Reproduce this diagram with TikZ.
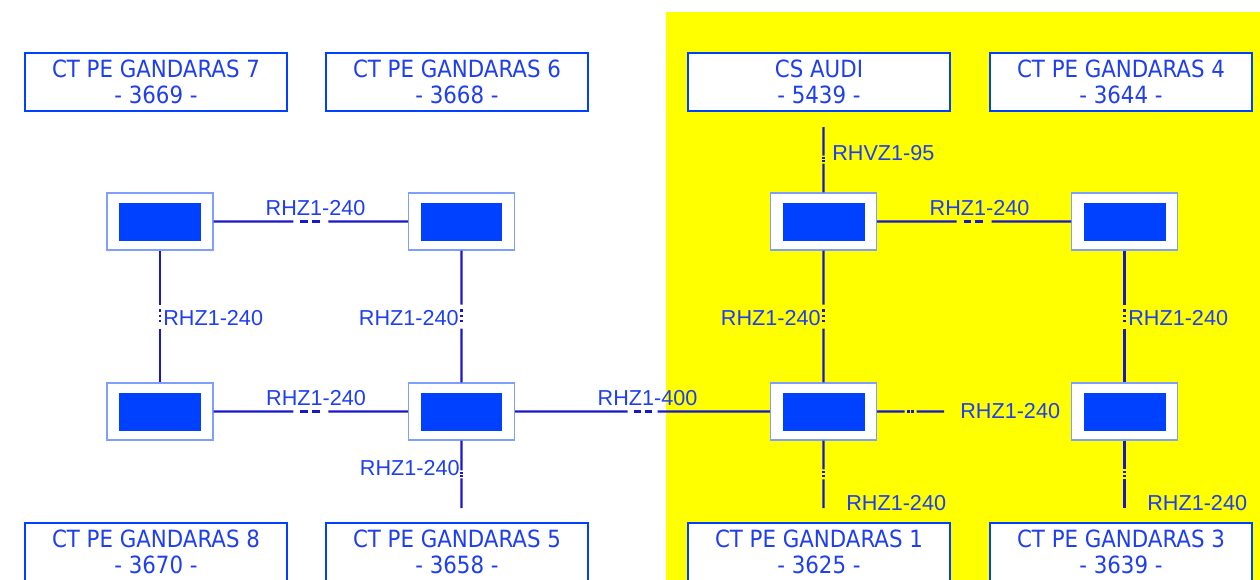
\documentclass[tikz,border=0pt]{standalone}
\usepackage{fontspec}
\setmainfont{Liberation Sans}
\newfontfamily\boxfont{DejaVu Sans Condensed}
\usepackage{tikz}
\usetikzlibrary{calc}
\definecolor{ctblue}{HTML}{0040FF}
\definecolor{lineblue}{HTML}{1818C8}
\definecolor{edgeblue}{HTML}{7F9FFF}
\definecolor{txtblue}{HTML}{1F3FEF}
\definecolor{zoneyellow}{HTML}{FFFF00}

% cable with a break in the middle: [dash pattern]{from}{to}{half gap}
\newcommand{\cable}[4][on 4.5pt off 2.3pt]{%
    \coordinate (mid) at ($(#2)!.5!(#3)$);
    \coordinate (ga) at ($(mid)!#4!(#2)$);
    \coordinate (gb) at ($(mid)!#4!(#3)$);
    \draw[cable] (#2) -- (ga);
    \draw[cable, dash pattern=#1] ($(mid)!0.6!(ga)$) -- ($(mid)!0.6!(gb)$);
    \draw[cable] (gb) -- (#3);}

\begin{document}
\begin{tikzpicture}[x=0.02cm, y=-0.02cm,
    lbox/.style={draw=ctblue, line width=1pt, fill=white, minimum width=5.24cm,
        minimum height=1.16cm, align=center, inner sep=0pt, text=txtblue,
        font=\boxfont\fontsize{13.5}{14.8}\selectfont},
    sw/.style={draw=edgeblue, line width=0.6pt, fill=white, minimum width=2.12cm,
        minimum height=1.14cm, inner sep=0pt,
        path picture={\fill[ctblue] ($(path picture bounding box.center)+(-0.82cm,-0.38cm)$) rectangle +(1.64cm,0.76cm);}},
    cable/.style={lineblue, line width=1.2pt},
    lab/.style={text=txtblue, inner sep=0pt, font=\fontsize{12.3}{14}\selectfont}]
    \useasboundingbox (0,0) rectangle (1260,579);
    % Zone
    \fill[zoneyellow] (666,12) rectangle (1262,581);
    % Stations
    \node[lbox] (ct7) at (156,82) {CT PE GANDARAS 7\\- 3669 -};
    \node[lbox] (ct6) at (457,82) {CT PE GANDARAS 6\\- 3668 -};
    \node[lbox] (audi) at (819,82) {CS AUDI\\- 5439 -};
    \node[lbox] (ct4) at (1121,82) {CT PE GANDARAS 4\\- 3644 -};
    \node[lbox] (ct8) at (156,552) {CT PE GANDARAS 8\\- 3670 -};
    \node[lbox] (ct5) at (457,552) {CT PE GANDARAS 5\\- 3658 -};
    \node[lbox] (ct1) at (819,552) {CT PE GANDARAS 1\\- 3625 -};
    \node[lbox] (ct3) at (1121,552) {CT PE GANDARAS 3\\- 3639 -};
    % Switches
    \node[sw] (s1) at (160,221.5) {};
    \node[sw] (s2) at (461.5,221.5) {};
    \node[sw] (s3) at (160,411.5) {};
    \node[sw] (s4) at (461.5,411.5) {};
    \node[sw] (s5) at (823.5,221.5) {};
    \node[sw] (s6) at (1124.5,221.5) {};
    \node[sw] (s7) at (823.5,411.5) {};
    \node[sw] (s8) at (1124.5,411.5) {};
    % Free ends
    \coordinate (e4) at (461.5,508);
    \coordinate (e5) at (823.5,127);
    \coordinate (e7) at (823.5,508);
    \coordinate (e7r) at (944,411.5);
    \coordinate (e8) at (1124.5,508);
    % Cables
    \cable{s1.east}{s2.west}{0.35cm}
    \cable{s3.east}{s4.west}{0.35cm}
    \cable{s4.east}{s7.west}{0.3cm}
    \cable{s5.east}{s6.west}{0.35cm}
    \cable[on 1.5pt off 1.5pt]{s1.south}{s3.north}{0.24cm}
    \cable[on 1.5pt off 1.5pt]{s2.south}{s4.north}{0.24cm}
    \cable[on 1.5pt off 1.5pt]{s5.south}{s7.north}{0.24cm}
    \cable[on 1.5pt off 1.5pt]{s6.south}{s8.north}{0.24cm}
    \cable[on 1pt off 1pt]{s4.south}{e4}{0.08cm}
    \cable[on 1pt off 1pt]{s5.north}{e5}{0.08cm}
    \cable[on 1pt off 1pt]{s7.south}{e7}{0.1cm}
    \cable[on 1pt off 1pt]{s8.south}{e8}{0.1cm}
    \cable[on 1.5pt off 1pt]{s7.east}{e7r}{0.12cm}
    % Labels
    \node[lab] (l12) at (315.5,208) {RHZ1-240};
    \node[lab, anchor=west] (l13) at (163,318) {RHZ1-240};
    \node[lab, anchor=east] (l24) at (459,318) {RHZ1-240};
    \node[lab] (l34) at (316,398) {RHZ1-240};
    \node[lab, anchor=east] (l4) at (460,468) {RHZ1-240};
    \node[lab] (l47) at (647.5,398) {RHZ1-400};
    \node[lab, anchor=west] (l5) at (832,153) {RHVZ1-95};
    \node[lab] (l56) at (979.5,208) {RHZ1-240};
    \node[lab, anchor=east] (l57) at (821,318) {RHZ1-240};
    \node[lab, anchor=west] (l68) at (1128,318) {RHZ1-240};
    \node[lab, anchor=west] (l78) at (960,411.5) {RHZ1-240};
    \node[lab, anchor=west] (l7) at (846,503) {RHZ1-240};
    \node[lab, anchor=west] (l8) at (1147,503) {RHZ1-240};
\end{tikzpicture}
\end{document}
